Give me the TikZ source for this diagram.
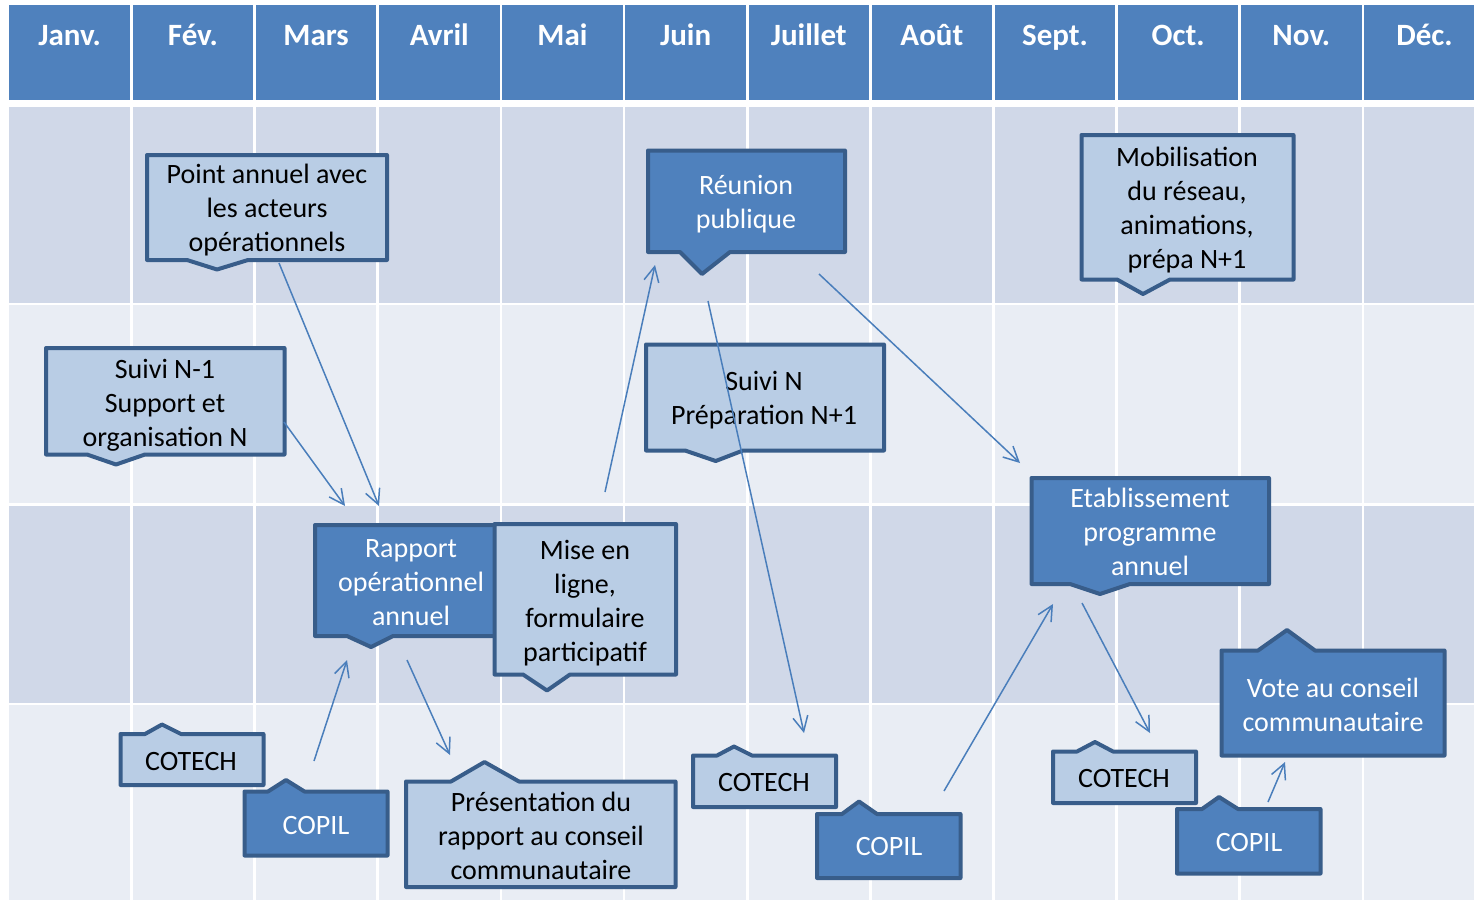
\documentclass[tikz,border=0pt]{standalone}
\usepackage{fontspec}
\setmainfont{Carlito}
\usetikzlibrary{arrows.meta}
\definecolor{hdr}{HTML}{4F81BD}
\definecolor{bord}{HTML}{385D8A}
\definecolor{lightf}{HTML}{B9CDE5}
\definecolor{rowdark}{HTML}{D0D8E8}
\definecolor{rowlight}{HTML}{E9EDF4}
\definecolor{arrowc}{HTML}{4A7EBB}
\tikzset{
  cl/.style={draw=bord, line width=4pt, fill=lightf, line join=round},
  cd/.style={cl, fill=hdr},
  txt/.style={align=center, font=\fontsize{28}{34}\selectfont, inner sep=0pt, text=black},
  txtw/.style={txt, text=white},
  mon/.style={font=\fontsize{31}{36}\selectfont\bfseries, text=white, inner sep=0pt, anchor=base},
  conn/.style={draw=arrowc, line width=1.5pt, -{Straight Barb[length=15pt,width=15pt,line width=1.5pt]}}
}
\begin{document}
\begin{tikzpicture}[x=1pt,y=-1pt]
\useasboundingbox (0,0) rectangle (1474,900);
\fill[white] (0,0) rectangle (1474,900);
\begin{scope}
\clip (0,0) rectangle (1474,900);
% header and body cells
\foreach \m [count=\k] in {Janv.,Fév.,Mars,Avril,Mai,Juin,Juillet,Août,Sept.,Oct.,Nov.,Déc.}{
  \pgfmathsetmacro{\lft}{\k==1 ? 9 : 131.4+123.15*(\k-2)+1.35}
  \pgfmathsetmacro{\rgt}{131.4+123.15*(\k-1)-1.35}
  \pgfmathsetmacro{\mid}{(\lft+\rgt)/2}
  \fill[hdr] (\lft,5) rectangle (\rgt,99.5);
  \node[mon] (h\k) at (\mid,45) {\m};
  \fill[rowdark] (\lft,107.3) rectangle (\rgt,302.5);
  \fill[rowlight] (\lft,305) rectangle (\rgt,503.3);
  \fill[rowdark] (\lft,505.8) rectangle (\rgt,702.5);
  \fill[rowlight] (\lft,705.2) rectangle (\rgt,900);
}
\end{scope}

% callouts
\draw[cl] (147,155) -- (387,155) -- (387,260) -- (248,260) -- (217,269.5) -- (187,260) -- (147,260) -- cycle;
\node[txt] (pa) at (267,210.5) {Point annuel avec\\les acteurs\\opérationnels};

\draw[cd] (648,150.5) -- (845,150.5) -- (845,252) -- (730,252) -- (702,274) -- (680,252) -- (648,252) -- cycle;
\node[txtw] (rp) at (746,204) {Réunion\\publique};

\draw[cl] (646,344.5) -- (884,344.5) -- (884,450.5) -- (743,450.5) -- (715.7,461) -- (685,450.5) -- (646,450.5) -- cycle;
\node[txt] (sn) at (764,400) {Suivi N\\Préparation N+1};

\draw[cl] (1081.5,135) -- (1293.5,135) -- (1293.5,279.5) -- (1170,279.5) -- (1143,294) -- (1117,279.5) -- (1081.5,279.5) -- cycle;
\node[txt] (mob) at (1187,210) {Mobilisation\\du réseau,\\animations,\\prépa N+1};

\draw[cl] (46,348) -- (284.5,348) -- (284.5,454.5) -- (145,454.5) -- (116,464.5) -- (87,454.5) -- (46,454.5) -- cycle;
\node[txt] (sn1) at (165,405) {Suivi N-1\\Support et\\organisation N};

\draw[cd] (315,525) -- (507,525) -- (507,636) -- (393,636) -- (371,647) -- (347,636) -- (315,636) -- cycle;
\node[txtw] (rap) at (411,582.5) {Rapport\\opérationnel\\annuel};

\draw[cl] (494.5,524) -- (676,524) -- (676,674.5) -- (570,674.5) -- (547,690.5) -- (523,674.5) -- (494.5,674.5) -- cycle;
\node[txt] (mel) at (585,603) {Mise en\\ligne,\\formulaire\\participatif};

\draw[cd] (1031.5,478) -- (1269,478) -- (1269,584) -- (1130,584) -- (1100,594) -- (1070,584) -- (1031.5,584) -- cycle;
\node[txtw] (etab) at (1150,532) {Etablissement\\programme\\annuel};

\draw[cd] (1221.5,650.5) -- (1258,650.5) -- (1287,630) -- (1315,650.5) -- (1444.5,650.5) -- (1444.5,755.5) -- (1221.5,755.5) -- cycle;
\node[txtw] (vote) at (1333,705) {Vote au conseil\\communautaire};

\draw[cl] (1053,751.5) -- (1077,751.5) -- (1095,742) -- (1113,751.5) -- (1196,751.5) -- (1196,803) -- (1053,803) -- cycle;
\node[txt] (ct3) at (1124,778) {COTECH};

\draw[cd] (1177,809) -- (1202,809) -- (1219,797) -- (1238,809) -- (1320.5,809) -- (1320.5,873.5) -- (1177,873.5) -- cycle;
\node[txtw] (cp3) at (1249,842) {COPIL};

\draw[cl] (120.5,734) -- (145,734) -- (162,724.5) -- (181,734) -- (263.5,734) -- (263.5,785) -- (120.5,785) -- cycle;
\node[txt] (ct1) at (191,761) {COTECH};

\draw[cd] (244.5,791.5) -- (268,791.5) -- (286,780) -- (304.5,791.5) -- (387.5,791.5) -- (387.5,855.5) -- (244.5,855.5) -- cycle;
\node[txtw] (cp1) at (316,825) {COPIL};

\draw[cl] (406,781.5) -- (451,781.5) -- (484.5,762) -- (519,781.5) -- (675.5,781.5) -- (675.5,887) -- (406,887) -- cycle;
\node[txt] (pres) at (541,835.5) {Présentation du\\rapport au conseil\\communautaire};

\draw[cl] (693,755.5) -- (717,755.5) -- (734,746.5) -- (752,755.5) -- (836,755.5) -- (836,807) -- (693,807) -- cycle;
\node[txt] (ct2) at (764,782) {COTECH};

\draw[cd] (817,814) -- (842,814) -- (859,801.5) -- (877,814) -- (960.5,814) -- (960.5,878) -- (817,878) -- cycle;
\node[txtw] (cp2) at (889,846) {COPIL};

% connector end points
\coordinate (a1s) at (279,263);  \coordinate (a1e) at (379,506);
\coordinate (a2s) at (284,422);  \coordinate (a2e) at (345,506);
\coordinate (a3s) at (314,761);  \coordinate (a3e) at (347,660);
\coordinate (a4s) at (407,660);  \coordinate (a4e) at (450,755);
\coordinate (a5s) at (605,492);  \coordinate (a5e) at (655,265);
\coordinate (a6s) at (708,301);  \coordinate (a6e) at (804,733);
\coordinate (a7s) at (819,274);  \coordinate (a7e) at (1020,463);
\coordinate (a8s) at (944,791);  \coordinate (a8e) at (1053,604);
\coordinate (a9s) at (1082,603); \coordinate (a9e) at (1150,733);
\coordinate (a10s) at (1268,802); \coordinate (a10e) at (1285,762);
\foreach \i in {1,...,10}{ \draw[conn] (a\i s) -- (a\i e); }
\end{tikzpicture}
\end{document}
